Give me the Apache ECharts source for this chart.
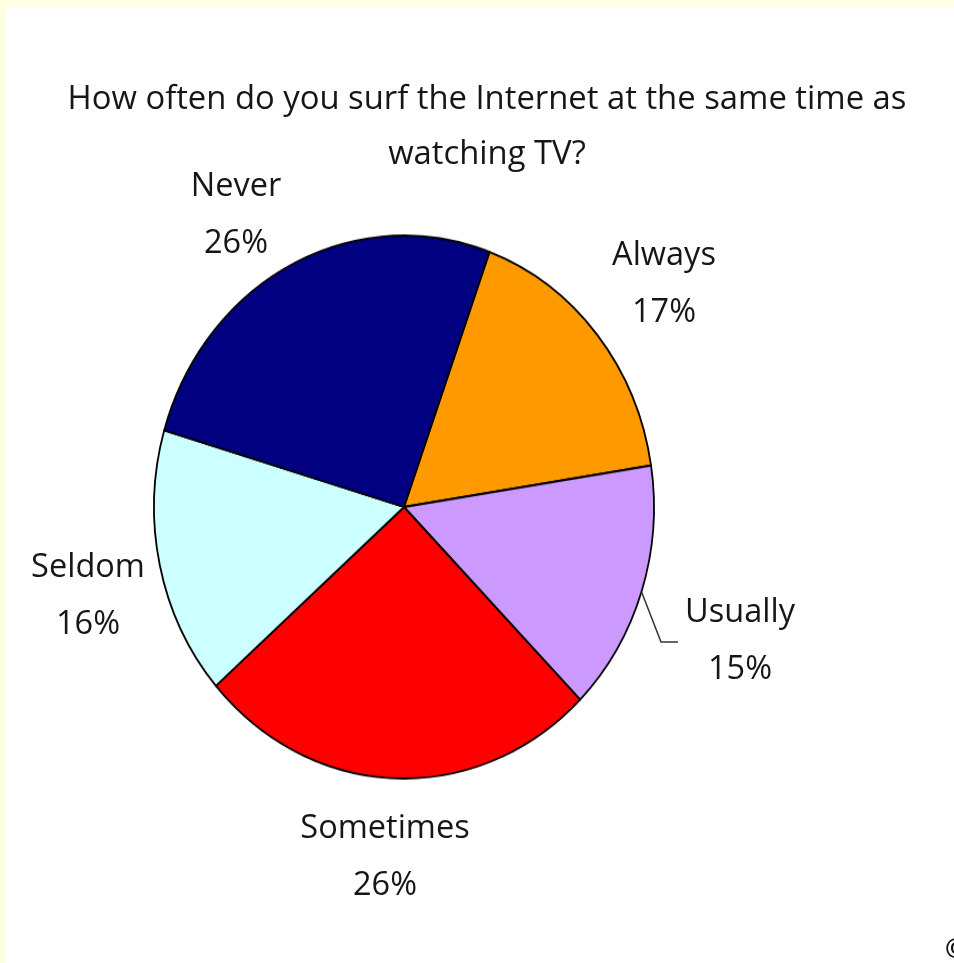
<!DOCTYPE html>
<html>
<head>
<meta charset="utf-8">
<title>Internet use while watching TV</title>
<script src="https://cdn.jsdelivr.net/npm/echarts@6/dist/echarts.min.js"></script>
<style>
  html, body { margin: 0; padding: 0; }
  body { width: 954px; height: 963px; background: #FFFFE2; position: relative; overflow: hidden; }
  #sheet { position: absolute; left: 6px; top: 7px; right: 0; bottom: 0; background: #ffffff; }
  .layer { position: absolute; left: 0; top: 0; width: 954px; height: 963px; }
  /* the pie is drawn slightly taller than wide */
  #pieLayer { transform-origin: 404px 507px; transform: scaleY(1.086); }
</style>
</head>
<body>
<div id="sheet"></div>
<div id="pieLayer" class="layer"></div>
<div id="textLayer" class="layer"></div>
<script>
// Survey answers, clockwise from the top
const categories = ['Always', 'Usually', 'Sometimes', 'Seldom', 'Never'];
const shares = [17, 15, 26, 16, 26];
const sliceColors = ['#FF9900', '#CC99FF', '#FF0000', '#CCFFFF', '#000080'];

const titleText = 'How often do you surf the Internet at the same time as\nwatching TV?';

// Geometry shared by both layers
const CENTER = [404, 507];
const RADIUS = 250;
const START = 70;
const STRETCH_Y = 1.086;

// Where each category caption sits (centre of its two-line block)
const captionSpots = {
  Always: [664, 284],
  Usually: [740, 641],
  Sometimes: [385, 857],
  Seldom: [88, 596],
  Never: [236, 215]
};
// Leader line for the caption that has one: elbow and end
const leaderBend = { Usually: [[661, 642], [678, 642]] };

const FONT = '"Open Sans", "Noto Sans", sans-serif';

const pieData = categories.map((name, i) => ({
  name,
  value: shares[i],
  itemStyle: { color: sliceColors[i] }
}));

// Slices
const pieChart = echarts.init(document.getElementById('pieLayer'), null, { renderer: 'canvas' });
pieChart.setOption({
  animation: false,
  backgroundColor: 'transparent',
  series: [{
    type: 'pie',
    center: CENTER,
    radius: RADIUS,
    startAngle: START,
    clockwise: true,
    silent: true,
    label: { show: false },
    labelLine: { show: false },
    itemStyle: { borderColor: '#000000', borderWidth: 1.8 },
    emphasis: { disabled: true },
    data: pieData
  }]
});

// Title and captions
const textChart = echarts.init(document.getElementById('textLayer'), null, { renderer: 'canvas' });
textChart.setOption({
  animation: false,
  backgroundColor: 'transparent',
  title: {
    text: titleText,
    left: 482,
    top: 67,
    textAlign: 'center',
    textStyle: {
      fontFamily: FONT,
      fontSize: 32.8,
      fontWeight: 'normal',
      color: '#161616',
      lineHeight: 55
    }
  },
  graphic: [{
    type: 'text',
    left: 945,
    top: 938,
    style: { text: '©', fontFamily: FONT, fontSize: 26, fontWeight: 'bold', fill: '#111' }
  }],
  series: [{
    type: 'pie',
    center: CENTER,
    radius: RADIUS,
    startAngle: START,
    clockwise: true,
    silent: true,
    avoidLabelOverlap: false,
    itemStyle: { color: 'rgba(0,0,0,0)', borderWidth: 0 },
    emphasis: { disabled: true },
    label: {
      show: true,
      position: 'outside',
      formatter: '{b}\n{c}%',
      fontFamily: FONT,
      fontSize: 32.5,
      lineHeight: 57,
      color: '#161616',
      align: 'center'
    },
    labelLine: {
      show: true,
      smooth: false,
      lineStyle: { color: '#333333', width: 1.5 }
    },
    labelLayout: function (params) {
      const name = categories[params.dataIndex];
      const spot = captionSpots[name];
      const out = { x: spot[0], y: spot[1], align: 'center', verticalAlign: 'middle' };
      const bend = leaderBend[name];
      if (bend && params.labelLinePoints) {
        const p0 = params.labelLinePoints[0];
        const start = [p0[0], CENTER[1] + (p0[1] - CENTER[1]) * STRETCH_Y];
        out.labelLinePoints = [start, bend[0], bend[1]];
      }
      return out;
    },
    data: categories.map((name, i) => ({
      name,
      value: shares[i],
      labelLine: { show: !!leaderBend[name] }
    }))
  }]
});
</script>
</body>
</html>
